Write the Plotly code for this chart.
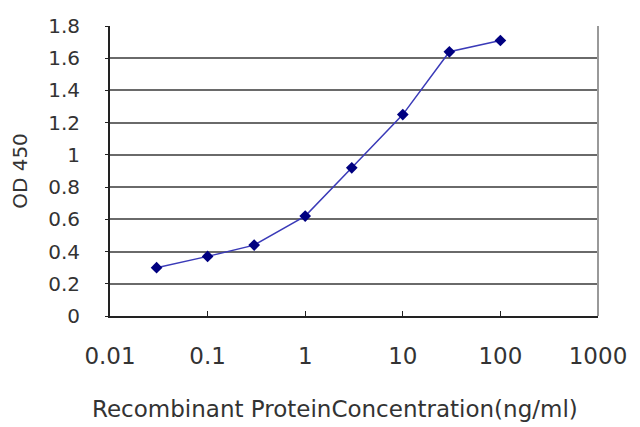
import plotly.graph_objects as go

concentration = [0.03, 0.1, 0.3, 1, 3, 10, 30, 100]
od450 = [0.30, 0.37, 0.44, 0.62, 0.92, 1.25, 1.64, 1.71]
x_ticks = [0.01, 0.1, 1, 10, 100, 1000]
x_tick_labels = ["0.01", "0.1", "1", "10", "100", "1000"]
y_ticks = [0, 0.2, 0.4, 0.6, 0.8, 1.0, 1.2, 1.4, 1.6, 1.8]
y_tick_labels = ["0", "0.2", "0.4", "0.6", "0.8", "1", "1.2", "1.4", "1.6", "1.8"]
x_title = "Recombinant ProteinConcentration(ng/ml)"
y_title = "OD 450"

fig = go.Figure()
fig.add_trace(go.Scatter(
    x=concentration, y=od450, mode="lines+markers",
    line=dict(color="#3a3ab8", width=1.5),
    marker=dict(symbol="diamond", size=9, color="#000080"),
    showlegend=False,
))

font = "DejaVu Sans, Arial, sans-serif"
fig.update_layout(
    width=640, height=427,
    margin=dict(l=102, r=50, t=18, b=119),
    paper_bgcolor="white", plot_bgcolor="white",
    font=dict(family=font, color="#333333"),
    xaxis=dict(
        type="log", range=[-2, 3], automargin=False,
        tickvals=x_ticks, ticktext=x_tick_labels,
        tickfont=dict(size=23, color="#333333"),
        ticklabelstandoff=18,
        showgrid=False, showline=True, linecolor="#222222", linewidth=2,
        ticks="inside", ticklen=5, tickcolor="#222222",
        zeroline=False,
    ),
    yaxis=dict(
        range=[0, 1.8], automargin=False,
        tickvals=y_ticks, ticktext=y_tick_labels,
        tickfont=dict(size=20, color="#333333"),
        ticklabelstandoff=21,
        showgrid=True, gridcolor="#6a6a6a", gridwidth=2,
        showline=True, linecolor="#222222", linewidth=2,
        ticks="outside", ticklen=3, tickcolor="#222222",
        title=dict(text=y_title, font=dict(size=20, color="#333333"), standoff=20),
        zeroline=False,
    ),
    shapes=[dict(type="line", xref="paper", yref="paper", x0=1, x1=1, y0=0, y1=1,
                 line=dict(color="#999999", width=2))],
    annotations=[dict(text=x_title, xref="paper", yref="paper", x=0.461, y=-0.32,
                      xanchor="center", yanchor="middle", showarrow=False,
                      font=dict(size=23, color="#333333"))],
)

fig.write_html("out.html")
